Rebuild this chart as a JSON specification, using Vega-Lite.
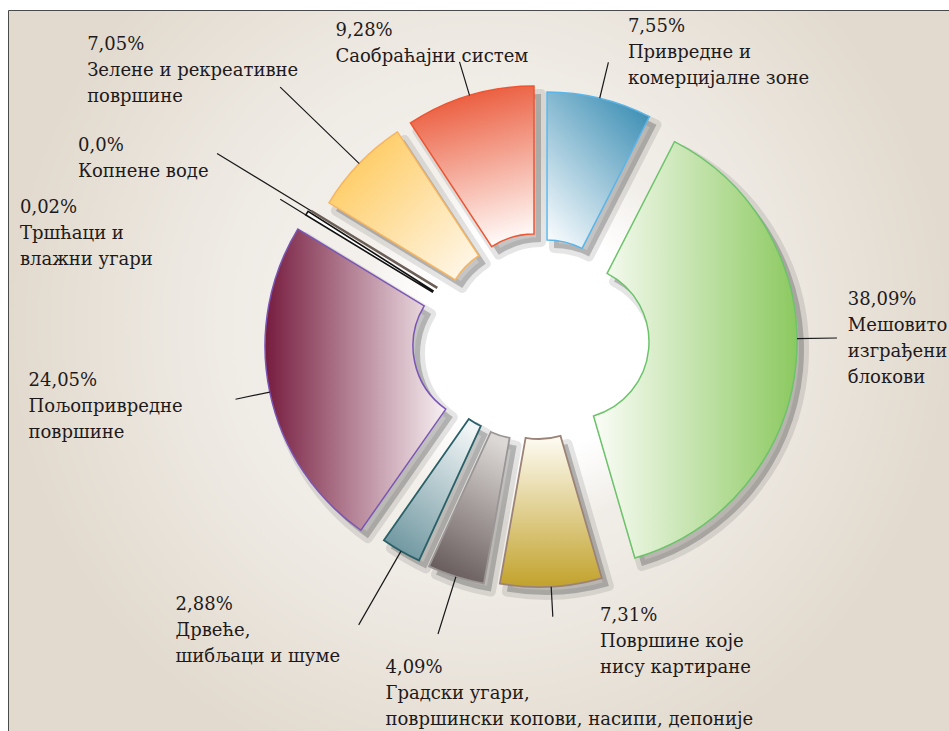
{
  "$schema": "https://vega.github.io/schema/vega-lite/v6.json",
  "width": 942,
  "height": 722,
  "autosize": {"type": "none"},
  "padding": {"left": 8, "top": 10, "right": -1, "bottom": -1},
  "background": "#ffffff",
  "config": {"font": "DejaVu Serif"},
  "view": {
    "fill": {"gradient": "radial", "x1": 0.5, "y1": 0.45, "r1": 0, "x2": 0.5, "y2": 0.45, "r2": 0.5,
      "stops": [{"offset": 0, "color": "#f8f6f3"}, {"offset": 0.55, "color": "#efebe5"}, {"offset": 1, "color": "#e2dace"}]},
    "stroke": "#4a4a4a",
    "strokeWidth": 1
  },
  "data": {
    "values": [
      {"category": "Привредне и комерцијалне зоне", "value": 7.55, "label": "7,55%\nПривредне и\nкомерцијалне зоне"},
      {"category": "Мешовито изграђени блокови", "value": 38.09, "label": "38,09%\nМешовито\nизграђени\nблокови"},
      {"category": "Површине које нису картиране", "value": 7.31, "label": "7,31%\nПовршине које\nнису картиране"},
      {"category": "Градски угари, површински копови, насипи, депоније", "value": 4.09, "label": "4,09%\nГрадски угари,\nповршински копови, насипи, депоније"},
      {"category": "Дрвеће, шибљаци и шуме", "value": 2.88, "label": "2,88%\nДрвеће,\nшибљаци и шуме"},
      {"category": "Пољопривредне површине", "value": 24.05, "label": "24,05%\nПољопривредне\nповршине"},
      {"category": "Тршћаци и влажни угари", "value": 0.02, "label": "0,02%\nТршћаци и\nвлажни угари"},
      {"category": "Копнене воде", "value": 0.0, "label": "0,0%\nКопнене воде"},
      {"category": "Зелене и рекреативне површине", "value": 7.05, "label": "7,05%\nЗелене и рекреативне\nповршине"},
      {"category": "Саобраћајни систем", "value": 9.28, "label": "9,28%\nСаобраћајни систем"}
    ]
  },
  "transform": [{"stack": "value", "groupby": [], "as": ["v0", "v1"]}],
  "layer": [
    {"transform": [{"filter": {"field": "category", "equal": "Мешовито изграђени блокови"}}],
     "mark": {"type": "arc", "radius": 185, "radius2": 0, "theta": 0, "theta2": 6.2832, "xOffset": 57, "yOffset": -31,
       "fill": {"gradient": "radial", "stops": [{"offset": 0, "color": "#ffffff"}, {"offset": 0.6, "color": "#ffffff"}, {"offset": 1, "color": "rgba(255,255,255,0)"}]}}},

    {"transform": [{"filter": {"field": "category", "equal": "Привредне и комерцијалне зоне"}}],
     "mark": {"type": "arc", "radius": 225, "radius2": 77, "xOffset": 75, "yOffset": -46, "fill": "#4a4a4a", "fillOpacity": 0.32, "stroke": "#4a4a4a", "strokeWidth": 10, "strokeOpacity": 0.14, "strokeJoin": "round"},
     "encoding": {"theta": {"field": "v0", "type": "quantitative", "scale": {"domain": [0, 100.32]}}, "theta2": {"field": "v1"}}},
    {"transform": [{"filter": {"field": "category", "equal": "Мешовито изграђени блокови"}}],
     "mark": {"type": "arc", "radius": 225, "radius2": 77, "xOffset": 100, "yOffset": -21, "fill": "#4a4a4a", "fillOpacity": 0.32, "stroke": "#4a4a4a", "strokeWidth": 10, "strokeOpacity": 0.14, "strokeJoin": "round"},
     "encoding": {"theta": {"field": "v0", "type": "quantitative", "scale": {"domain": [0, 100.32]}}, "theta2": {"field": "v1"}}},
    {"transform": [{"filter": {"field": "category", "equal": "Површине које нису картиране"}}],
     "mark": {"type": "arc", "radius": 225, "radius2": 77, "xOffset": 67, "yOffset": -1, "fill": "#4a4a4a", "fillOpacity": 0.32, "stroke": "#4a4a4a", "strokeWidth": 10, "strokeOpacity": 0.14, "strokeJoin": "round"},
     "encoding": {"theta": {"field": "v0", "type": "quantitative", "scale": {"domain": [0, 100.32]}}, "theta2": {"field": "v1"}}},
    {"transform": [{"filter": {"field": "category", "equal": "Градски угари, површински копови, насипи, депоније"}}],
     "mark": {"type": "arc", "radius": 225, "radius2": 77, "xOffset": 51, "yOffset": -1, "fill": "#4a4a4a", "fillOpacity": 0.32, "stroke": "#4a4a4a", "strokeWidth": 10, "strokeOpacity": 0.14, "strokeJoin": "round"},
     "encoding": {"theta": {"field": "v0", "type": "quantitative", "scale": {"domain": [0, 100.32]}}, "theta2": {"field": "v1"}}},
    {"transform": [{"filter": {"field": "category", "equal": "Дрвеће, шибљаци и шуме"}}],
     "mark": {"type": "arc", "radius": 225, "radius2": 77, "xOffset": 41, "yOffset": -7, "fill": "#4a4a4a", "fillOpacity": 0.32, "stroke": "#4a4a4a", "strokeWidth": 10, "strokeOpacity": 0.14, "strokeJoin": "round"},
     "encoding": {"theta": {"field": "v0", "type": "quantitative", "scale": {"domain": [0, 100.32]}}, "theta2": {"field": "v1"}}},
    {"transform": [{"filter": {"field": "category", "equal": "Пољопривредне површине"}}],
     "mark": {"type": "arc", "radius": 225, "radius2": 77, "xOffset": 18, "yOffset": -17, "fill": "#4a4a4a", "fillOpacity": 0.32, "stroke": "#4a4a4a", "strokeWidth": 10, "strokeOpacity": 0.14, "strokeJoin": "round"},
     "encoding": {"theta": {"field": "v0", "type": "quantitative", "scale": {"domain": [0, 100.32]}}, "theta2": {"field": "v1"}}},
    {"transform": [{"filter": {"field": "category", "equal": "Зелене и рекреативне површине"}}],
     "mark": {"type": "arc", "radius": 225, "radius2": 77, "xOffset": 49, "yOffset": -43, "fill": "#4a4a4a", "fillOpacity": 0.32, "stroke": "#4a4a4a", "strokeWidth": 10, "strokeOpacity": 0.14, "strokeJoin": "round"},
     "encoding": {"theta": {"field": "v0", "type": "quantitative", "scale": {"domain": [0, 100.32]}}, "theta2": {"field": "v1"}}},
    {"transform": [{"filter": {"field": "category", "equal": "Саобраћајни систем"}}],
     "mark": {"type": "arc", "radius": 225, "radius2": 77, "xOffset": 62, "yOffset": -52, "fill": "#4a4a4a", "fillOpacity": 0.32, "stroke": "#4a4a4a", "strokeWidth": 10, "strokeOpacity": 0.14, "strokeJoin": "round"},
     "encoding": {"theta": {"field": "v0", "type": "quantitative", "scale": {"domain": [0, 100.32]}}, "theta2": {"field": "v1"}}},

    {"transform": [{"filter": {"field": "category", "equal": "Привредне и комерцијалне зоне"}}],
     "mark": {"type": "arc", "radius": 225, "radius2": 77, "xOffset": 68, "yOffset": -54, "stroke": "#5cb5e8", "strokeWidth": 1.5,
       "fill": {"gradient": "linear", "x1": 0.15, "y1": 1, "x2": 0.85, "y2": 0, "stops": [{"offset": 0, "color": "#f4f9fc"}, {"offset": 1, "color": "#3a8db3"}]}},
     "encoding": {"theta": {"field": "v0", "type": "quantitative", "scale": {"domain": [0, 100.32]}}, "theta2": {"field": "v1"}}},
    {"transform": [{"filter": {"field": "category", "equal": "Мешовито изграђени блокови"}}],
     "mark": {"type": "arc", "radius": 225, "radius2": 77, "xOffset": 93, "yOffset": -29, "stroke": "#6cc36a", "strokeWidth": 1.5,
       "fill": {"gradient": "linear", "x1": 0, "y1": 0.5, "x2": 1, "y2": 0.5, "stops": [{"offset": 0, "color": "#fbfdf8"}, {"offset": 1, "color": "#8cc960"}]}},
     "encoding": {"theta": {"field": "v0", "type": "quantitative", "scale": {"domain": [0, 100.32]}}, "theta2": {"field": "v1"}}},
    {"transform": [{"filter": {"field": "category", "equal": "Површине које нису картиране"}}],
     "mark": {"type": "arc", "radius": 225, "radius2": 77, "xOffset": 60, "yOffset": -9, "stroke": "#9c8377", "strokeWidth": 1.8,
       "fill": {"gradient": "linear", "x1": 0.5, "y1": 0, "x2": 0.5, "y2": 1, "stops": [{"offset": 0, "color": "#fefcf4"}, {"offset": 1, "color": "#c2a22c"}]}},
     "encoding": {"theta": {"field": "v0", "type": "quantitative", "scale": {"domain": [0, 100.32]}}, "theta2": {"field": "v1"}}},
    {"transform": [{"filter": {"field": "category", "equal": "Градски угари, површински копови, насипи, депоније"}}],
     "mark": {"type": "arc", "radius": 225, "radius2": 77, "xOffset": 44, "yOffset": -9, "stroke": "#9b9696", "strokeWidth": 1.8,
       "fill": {"gradient": "linear", "x1": 0.65, "y1": 0, "x2": 0.35, "y2": 1, "stops": [{"offset": 0, "color": "#dcd8d6"}, {"offset": 1, "color": "#675b5b"}]}},
     "encoding": {"theta": {"field": "v0", "type": "quantitative", "scale": {"domain": [0, 100.32]}}, "theta2": {"field": "v1"}}},
    {"transform": [{"filter": {"field": "category", "equal": "Дрвеће, шибљаци и шуме"}}],
     "mark": {"type": "arc", "radius": 225, "radius2": 77, "xOffset": 34, "yOffset": -15, "stroke": "#2a6068", "strokeWidth": 1.8,
       "fill": {"gradient": "linear", "x1": 0.75, "y1": 0, "x2": 0.25, "y2": 1, "stops": [{"offset": 0, "color": "#f1f5f6"}, {"offset": 1, "color": "#6f97a0"}]}},
     "encoding": {"theta": {"field": "v0", "type": "quantitative", "scale": {"domain": [0, 100.32]}}, "theta2": {"field": "v1"}}},
    {"transform": [{"filter": {"field": "category", "equal": "Пољопривредне површине"}}],
     "mark": {"type": "arc", "radius": 225, "radius2": 77, "xOffset": 11, "yOffset": -25, "stroke": "#7a55b5", "strokeWidth": 1.5,
       "fill": {"gradient": "linear", "x1": 1, "y1": 0.5, "x2": 0, "y2": 0.5, "stops": [{"offset": 0, "color": "#f7f0f3"}, {"offset": 1, "color": "#761c3e"}]}},
     "encoding": {"theta": {"field": "v0", "type": "quantitative", "scale": {"domain": [0, 100.32]}}, "theta2": {"field": "v1"}}},
    {"transform": [{"filter": {"field": "category", "equal": "Тршћаци и влажни угари"}}],
     "mark": {"type": "arc", "radius": 225, "radius2": 77, "xOffset": 19, "yOffset": -39, "theta2Offset": 0.018, "stroke": "#111111", "strokeWidth": 1.6, "fill": "#ffffff"},
     "encoding": {"theta": {"field": "v0", "type": "quantitative", "scale": {"domain": [0, 100.32]}}, "theta2": {"field": "v1"}}},
    {"transform": [{"filter": {"field": "category", "equal": "Копнене воде"}}],
     "mark": {"type": "arc", "radius": 225, "radius2": 77, "xOffset": 24, "yOffset": -43, "stroke": "#6b5f57", "strokeWidth": 2.5, "fill": "#6b5f57", "fillOpacity": 0},
     "encoding": {"theta": {"field": "v0", "type": "quantitative", "scale": {"domain": [0, 100.32]}}, "theta2": {"field": "v1"}}},
    {"transform": [{"filter": {"field": "category", "equal": "Зелене и рекреативне површине"}}],
     "mark": {"type": "arc", "radius": 225, "radius2": 77, "xOffset": 42, "yOffset": -51, "stroke": "#f8b560", "strokeWidth": 1.5,
       "fill": {"gradient": "linear", "x1": 1, "y1": 1, "x2": 0, "y2": 0, "stops": [{"offset": 0, "color": "#fffaf2"}, {"offset": 1, "color": "#fec349"}]}},
     "encoding": {"theta": {"field": "v0", "type": "quantitative", "scale": {"domain": [0, 100.32]}}, "theta2": {"field": "v1"}}},
    {"transform": [{"filter": {"field": "category", "equal": "Саобраћајни систем"}}],
     "mark": {"type": "arc", "radius": 225, "radius2": 77, "xOffset": 55, "yOffset": -60, "stroke": "#ee5533", "strokeWidth": 1.5,
       "fill": {"gradient": "linear", "x1": 0.6, "y1": 1, "x2": 0.4, "y2": 0, "stops": [{"offset": 0, "color": "#fffaf8"}, {"offset": 1, "color": "#ea5535"}]}},
     "encoding": {"theta": {"field": "v0", "type": "quantitative", "scale": {"domain": [0, 100.32]}}, "theta2": {"field": "v1"}}},

    {"transform": [{"filter": {"field": "category", "equal": "Привредне и комерцијалне зоне"}}, {"fold": ["v0", "v1"], "as": ["edge", "ang"]}, {"aggregate": [{"op": "mean", "field": "ang", "as": "mid"}], "groupby": ["category", "label"]}],
     "layer": [
       {"mark": {"type": "arc", "radius": 262, "radius2": 225, "xOffset": 68, "yOffset": -54, "fill": "#000000", "fillOpacity": 0, "stroke": "#1a1a1a", "strokeWidth": 1.2},
        "encoding": {"theta": {"field": "mid", "type": "quantitative", "scale": {"domain": [0, 100.32]}}, "theta2": {"field": "mid"}}},
       {"mark": {"type": "text", "radius": 260, "xOffset": 57, "yOffset": -31, "dx": 31, "dy": -55, "align": "left", "baseline": "alphabetic", "lineBreak": "\n", "font": "DejaVu Serif", "fontSize": 18, "lineHeight": 26, "fill": "#1e1a1b"},
        "encoding": {"theta": {"field": "mid", "type": "quantitative", "stack": null, "scale": {"domain": [0, 100.32]}}, "text": {"field": "label"}}}
     ]},
    {"transform": [{"filter": {"field": "category", "equal": "Мешовито изграђени блокови"}}, {"fold": ["v0", "v1"], "as": ["edge", "ang"]}, {"aggregate": [{"op": "mean", "field": "ang", "as": "mid"}], "groupby": ["category", "label"]}],
     "layer": [
       {"mark": {"type": "arc", "radius": 265, "radius2": 225, "xOffset": 93, "yOffset": -29, "thetaOffset": -0.11, "theta2Offset": -0.11, "fill": "#000000", "fillOpacity": 0, "stroke": "#1a1a1a", "strokeWidth": 1.2},
        "encoding": {"theta": {"field": "mid", "type": "quantitative", "scale": {"domain": [0, 100.32]}}, "theta2": {"field": "mid"}}},
       {"mark": {"type": "text", "radius": 260, "xOffset": 57, "yOffset": -31, "dx": 53, "dy": -60, "align": "left", "baseline": "alphabetic", "lineBreak": "\n", "font": "DejaVu Serif", "fontSize": 18, "lineHeight": 26, "fill": "#1e1a1b"},
        "encoding": {"theta": {"field": "mid", "type": "quantitative", "stack": null, "scale": {"domain": [0, 100.32]}}, "text": {"field": "label"}}}
     ]},
    {"transform": [{"filter": {"field": "category", "equal": "Површине које нису картиране"}}, {"fold": ["v0", "v1"], "as": ["edge", "ang"]}, {"aggregate": [{"op": "mean", "field": "ang", "as": "mid"}], "groupby": ["category", "label"]}],
     "layer": [
       {"mark": {"type": "arc", "radius": 255, "radius2": 225, "xOffset": 60, "yOffset": -9, "fill": "#000000", "fillOpacity": 0, "stroke": "#1a1a1a", "strokeWidth": 1.2},
        "encoding": {"theta": {"field": "mid", "type": "quantitative", "scale": {"domain": [0, 100.32]}}, "theta2": {"field": "mid"}}},
       {"mark": {"type": "text", "radius": 260, "xOffset": 57, "yOffset": -31, "dx": 50, "dy": 21, "align": "left", "baseline": "alphabetic", "lineBreak": "\n", "font": "DejaVu Serif", "fontSize": 18, "lineHeight": 26, "fill": "#1e1a1b"},
        "encoding": {"theta": {"field": "mid", "type": "quantitative", "stack": null, "scale": {"domain": [0, 100.32]}}, "text": {"field": "label"}}}
     ]},
    {"transform": [{"filter": {"field": "category", "equal": "Градски угари, површински копови, насипи, депоније"}}, {"fold": ["v0", "v1"], "as": ["edge", "ang"]}, {"aggregate": [{"op": "mean", "field": "ang", "as": "mid"}], "groupby": ["category", "label"]}],
     "layer": [
       {"mark": {"type": "arc", "radius": 285, "radius2": 225, "xOffset": 44, "yOffset": -9, "fill": "#000000", "fillOpacity": 0, "stroke": "#1a1a1a", "strokeWidth": 1.2},
        "encoding": {"theta": {"field": "mid", "type": "quantitative", "scale": {"domain": [0, 100.32]}}, "theta2": {"field": "mid"}}},
       {"mark": {"type": "text", "radius": 260, "xOffset": 57, "yOffset": -31, "dx": -73, "dy": 85, "align": "left", "baseline": "alphabetic", "lineBreak": "\n", "font": "DejaVu Serif", "fontSize": 18, "lineHeight": 26, "fill": "#1e1a1b"},
        "encoding": {"theta": {"field": "mid", "type": "quantitative", "stack": null, "scale": {"domain": [0, 100.32]}}, "text": {"field": "label"}}}
     ]},
    {"transform": [{"filter": {"field": "category", "equal": "Дрвеће, шибљаци и шуме"}}, {"fold": ["v0", "v1"], "as": ["edge", "ang"]}, {"aggregate": [{"op": "mean", "field": "ang", "as": "mid"}], "groupby": ["category", "label"]}],
     "layer": [
       {"mark": {"type": "arc", "radius": 310, "radius2": 225, "xOffset": 34, "yOffset": -15, "fill": "#000000", "fillOpacity": 0, "stroke": "#1a1a1a", "strokeWidth": 1.2},
        "encoding": {"theta": {"field": "mid", "type": "quantitative", "scale": {"domain": [0, 100.32]}}, "theta2": {"field": "mid"}}},
       {"mark": {"type": "text", "radius": 260, "xOffset": 57, "yOffset": -31, "dx": -231, "dy": 45, "align": "left", "baseline": "alphabetic", "lineBreak": "\n", "font": "DejaVu Serif", "fontSize": 18, "lineHeight": 26, "fill": "#1e1a1b"},
        "encoding": {"theta": {"field": "mid", "type": "quantitative", "stack": null, "scale": {"domain": [0, 100.32]}}, "text": {"field": "label"}}}
     ]},
    {"transform": [{"filter": {"field": "category", "equal": "Пољопривредне површине"}}, {"fold": ["v0", "v1"], "as": ["edge", "ang"]}, {"aggregate": [{"op": "mean", "field": "ang", "as": "mid"}], "groupby": ["category", "label"]}],
     "layer": [
       {"mark": {"type": "arc", "radius": 260, "radius2": 225, "xOffset": 11, "yOffset": -25, "fill": "#000000", "fillOpacity": 0, "stroke": "#1a1a1a", "strokeWidth": 1.2},
        "encoding": {"theta": {"field": "mid", "type": "quantitative", "scale": {"domain": [0, 100.32]}}, "theta2": {"field": "mid"}}},
       {"mark": {"type": "text", "radius": 260, "xOffset": 57, "yOffset": -31, "dx": -253, "dy": -7, "align": "left", "baseline": "alphabetic", "lineBreak": "\n", "font": "DejaVu Serif", "fontSize": 18, "lineHeight": 26, "fill": "#1e1a1b"},
        "encoding": {"theta": {"field": "mid", "type": "quantitative", "stack": null, "scale": {"domain": [0, 100.32]}}, "text": {"field": "label"}}}
     ]},
    {"transform": [{"filter": {"field": "category", "equal": "Тршћаци и влажни угари"}}, {"fold": ["v0", "v1"], "as": ["edge", "ang"]}, {"aggregate": [{"op": "mean", "field": "ang", "as": "mid"}], "groupby": ["category", "label"]}],
     "layer": [
       {"mark": {"type": "arc", "radius": 255, "radius2": 225, "xOffset": 19, "yOffset": -39, "fill": "#000000", "fillOpacity": 0, "stroke": "#1a1a1a", "strokeWidth": 1.2},
        "encoding": {"theta": {"field": "mid", "type": "quantitative", "scale": {"domain": [0, 100.32]}}, "theta2": {"field": "mid"}}},
       {"mark": {"type": "text", "radius": 260, "xOffset": 57, "yOffset": -31, "dx": -294, "dy": 8, "align": "left", "baseline": "alphabetic", "lineBreak": "\n", "font": "DejaVu Serif", "fontSize": 18, "lineHeight": 26, "fill": "#1e1a1b"},
        "encoding": {"theta": {"field": "mid", "type": "quantitative", "stack": null, "scale": {"domain": [0, 100.32]}}, "text": {"field": "label"}}}
     ]},
    {"transform": [{"filter": {"field": "category", "equal": "Копнене воде"}}, {"fold": ["v0", "v1"], "as": ["edge", "ang"]}, {"aggregate": [{"op": "mean", "field": "ang", "as": "mid"}], "groupby": ["category", "label"]}],
     "layer": [
       {"mark": {"type": "arc", "radius": 335, "radius2": 225, "xOffset": 24, "yOffset": -43, "fill": "#000000", "fillOpacity": 0, "stroke": "#1a1a1a", "strokeWidth": 1.2},
        "encoding": {"theta": {"field": "mid", "type": "quantitative", "scale": {"domain": [0, 100.32]}}, "theta2": {"field": "mid"}}},
       {"mark": {"type": "text", "radius": 260, "xOffset": 57, "yOffset": -31, "dx": -236, "dy": -54, "align": "left", "baseline": "alphabetic", "lineBreak": "\n", "font": "DejaVu Serif", "fontSize": 18, "lineHeight": 26, "fill": "#1e1a1b"},
        "encoding": {"theta": {"field": "mid", "type": "quantitative", "stack": null, "scale": {"domain": [0, 100.32]}}, "text": {"field": "label"}}}
     ]},
    {"transform": [{"filter": {"field": "category", "equal": "Зелене и рекреативне површине"}}, {"fold": ["v0", "v1"], "as": ["edge", "ang"]}, {"aggregate": [{"op": "mean", "field": "ang", "as": "mid"}], "groupby": ["category", "label"]}],
     "layer": [
       {"mark": {"type": "arc", "radius": 335, "radius2": 225, "xOffset": 42, "yOffset": -51, "fill": "#000000", "fillOpacity": 0, "stroke": "#1a1a1a", "strokeWidth": 1.2},
        "encoding": {"theta": {"field": "mid", "type": "quantitative", "scale": {"domain": [0, 100.32]}}, "theta2": {"field": "mid"}}},
       {"mark": {"type": "text", "radius": 260, "xOffset": 57, "yOffset": -31, "dx": -262, "dy": -109, "align": "left", "baseline": "alphabetic", "lineBreak": "\n", "font": "DejaVu Serif", "fontSize": 18, "lineHeight": 26, "fill": "#1e1a1b"},
        "encoding": {"theta": {"field": "mid", "type": "quantitative", "stack": null, "scale": {"domain": [0, 100.32]}}, "text": {"field": "label"}}}
     ]},
    {"transform": [{"filter": {"field": "category", "equal": "Саобраћајни систем"}}, {"fold": ["v0", "v1"], "as": ["edge", "ang"]}, {"aggregate": [{"op": "mean", "field": "ang", "as": "mid"}], "groupby": ["category", "label"]}],
     "layer": [
       {"mark": {"type": "arc", "radius": 260, "radius2": 225, "xOffset": 55, "yOffset": -60, "fill": "#000000", "fillOpacity": 0, "stroke": "#1a1a1a", "strokeWidth": 1.2},
        "encoding": {"theta": {"field": "mid", "type": "quantitative", "scale": {"domain": [0, 100.32]}}, "theta2": {"field": "mid"}}},
       {"mark": {"type": "text", "radius": 260, "xOffset": 57, "yOffset": -31, "dx": -126, "dy": -55, "align": "left", "baseline": "alphabetic", "lineBreak": "\n", "font": "DejaVu Serif", "fontSize": 18, "lineHeight": 26, "fill": "#1e1a1b"},
        "encoding": {"theta": {"field": "mid", "type": "quantitative", "stack": null, "scale": {"domain": [0, 100.32]}}, "text": {"field": "label"}}}
     ]}
  ]
}
